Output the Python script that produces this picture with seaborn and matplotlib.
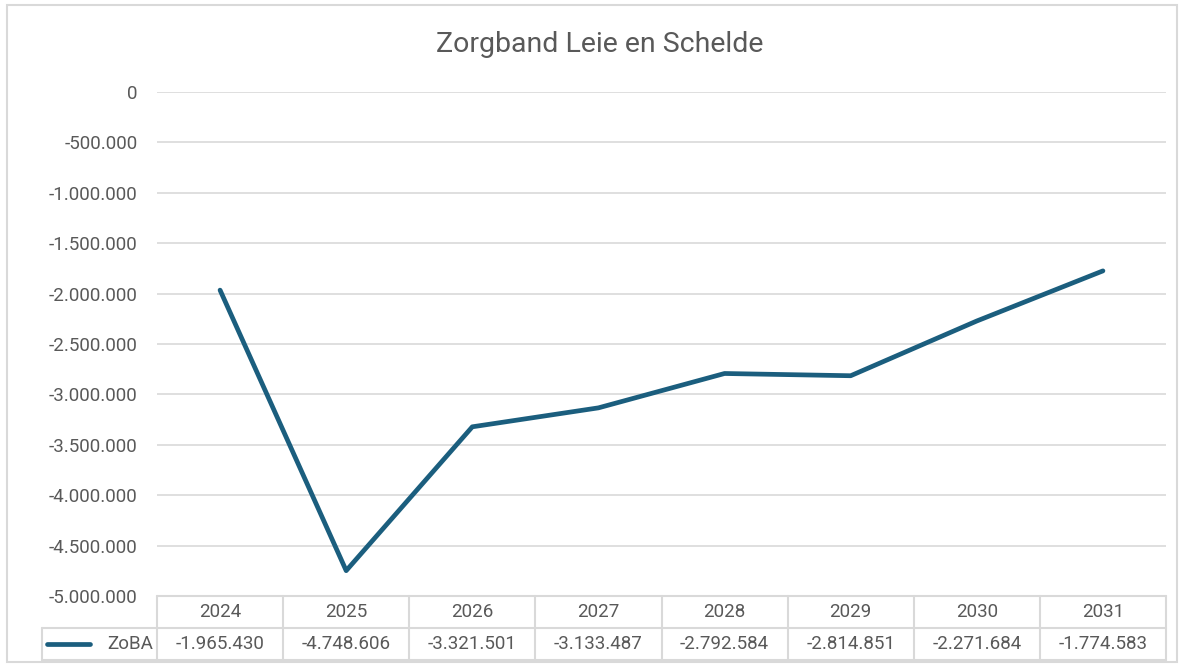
import numpy as np
import pandas as pd
import matplotlib
matplotlib.use("Agg")
import matplotlib.pyplot as plt
import matplotlib.transforms as mtransforms
from matplotlib.patches import Rectangle
from matplotlib.lines import Line2D
import seaborn as sns

# ---- data ----
title = "Zorgband Leie en Schelde"
series_name = "ZoBA"
years = ["2024", "2025", "2026", "2027", "2028", "2029", "2030", "2031"]
values = [-1965430, -4748606, -3321501, -3133487, -2792584, -2814851, -2271684, -1774583]
y_ticks = [0, -500000, -1000000, -1500000, -2000000, -2500000, -3000000,
           -3500000, -4000000, -4500000, -5000000]

def fmt(v):
    return f"{v:,}".replace(",", ".")

df = pd.DataFrame({"pos": np.arange(len(years)), "year": years, "value": values})

sns.set_theme(style="white")
plt.rcParams["font.family"] = ["Roboto", "DejaVu Sans"]

W, H = 1184, 667
fig = plt.figure(figsize=(W / 100, H / 100), dpi=100)
fig.patch.set_facecolor("white")

# outer border
fig.patches.append(Rectangle((7 / W, 5 / H), (1177 - 7) / W, (662 - 5) / H,
                             transform=fig.transFigure, fill=False,
                             edgecolor="#d9d9d9", linewidth=1.5))

ax_l, ax_r, ax_t, ax_b = 157, 1166, 92, 596
ax = fig.add_axes([ax_l / W, (H - ax_b) / H, (ax_r - ax_l) / W, (ax_b - ax_t) / H])
axh = ax_b - ax_t
axw = ax_r - ax_l

line_color = "#1B5E7E"
text_color = "#595959"
grid_color = "#d9d9d9"
fs = 13.5

sns.lineplot(data=df, x="pos", y="value", ax=ax, color=line_color, linewidth=3.4,
             solid_capstyle="round", solid_joinstyle="round", zorder=3)

ax.set_xlim(-0.5, len(years) - 0.5)
ax.set_ylim(min(y_ticks), max(y_ticks))
ax.set_yticks(y_ticks)
ax.set_yticklabels([fmt(t) for t in y_ticks])
ax.set_xticks([])
ax.set_xlabel("")
ax.set_ylabel("")
ax.tick_params(axis="y", length=0, pad=14, labelsize=fs, labelcolor=text_color)
for s in ax.spines.values():
    s.set_visible(False)
ax.yaxis.grid(True, color=grid_color, linewidth=1.2)
ax.set_axisbelow(True)

fig.text(600 / W, 1 - 44 / H, title, ha="center", va="center",
         fontsize=20.5, color=text_color)

# ---- data table below the axes ----
blend = mtransforms.blended_transform_factory(ax.transData, ax.transAxes)
row_h = 32 / axh
legend_left = (42 - ax_l) / axw
n = len(years)
lkw = dict(color=grid_color, linewidth=1.5, clip_on=False)

# horizontal lines
ax.add_line(Line2D([-0.5, n - 0.5], [0, 0], transform=blend, **lkw))
ax.add_line(Line2D([legend_left, 1], [-row_h, -row_h], transform=ax.transAxes, **lkw))
ax.add_line(Line2D([legend_left, 1], [-2 * row_h, -2 * row_h], transform=ax.transAxes, **lkw))
# vertical lines
for i in range(n + 1):
    ax.add_line(Line2D([i - 0.5, i - 0.5], [0, -2 * row_h], transform=blend, **lkw))
ax.add_line(Line2D([legend_left, legend_left], [-row_h, -2 * row_h],
                   transform=ax.transAxes, **lkw))

for i, (yr, v) in enumerate(zip(years, values)):
    ax.text(i, -0.5 * row_h, yr, transform=blend, ha="center", va="center",
            fontsize=fs, color=text_color, clip_on=False)
    ax.text(i, -1.5 * row_h, fmt(v), transform=blend, ha="center", va="center",
            fontsize=fs, color=text_color, clip_on=False)

# legend key in table
ax.add_line(Line2D([(47 - ax_l) / axw, (90 - ax_l) / axw], [-1.5 * row_h, -1.5 * row_h],
                   transform=ax.transAxes, color=line_color, linewidth=3.4,
                   solid_capstyle="round", clip_on=False))
ax.text((153 - ax_l) / axw, -1.5 * row_h, series_name, transform=ax.transAxes,
        ha="right", va="center", fontsize=fs, color=text_color, clip_on=False)

fig.savefig("out.png", dpi=100, facecolor="white")
